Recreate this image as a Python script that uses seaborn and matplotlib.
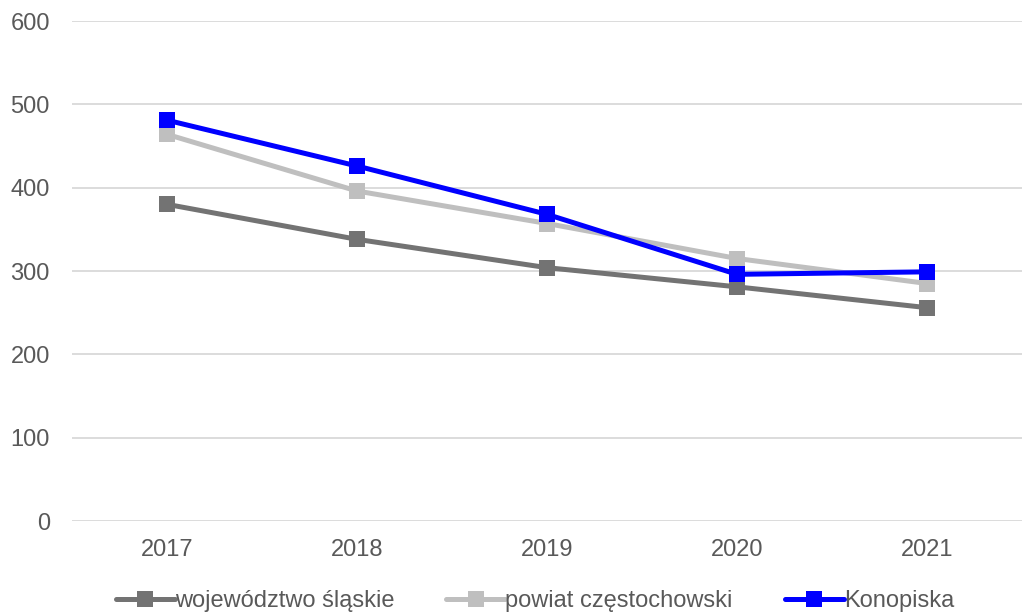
import matplotlib.pyplot as plt
import seaborn as sns
import pandas as pd
import numpy as np

# dane
years = ['2017', '2018', '2019', '2020', '2021']
slaskie = [380, 338, 304, 281, 256]
powiat = [464, 396, 357, 315, 285]
konopiska = [481, 426, 368, 296, 299]
series_names = ['województwo śląskie', 'powiat częstochowski', 'Konopiska']
colors = ['#737373', '#BFBFBF', '#0000FF']

df = pd.DataFrame({
    'rok': years * 3,
    'x': list(range(len(years))) * 3,
    'wartosc': slaskie + powiat + konopiska,
    'seria': [series_names[0]] * 5 + [series_names[1]] * 5 + [series_names[2]] * 5,
})

sns.set_style('white')
plt.rcParams['font.family'] = ['Liberation Sans', 'DejaVu Sans']
plt.rcParams['font.size'] = 17

fig = plt.figure(figsize=(10.27, 6.14), dpi=100)
ax = fig.add_axes([72 / 1027, 1 - 521 / 614, 950 / 1027, 500 / 614])

sns.lineplot(data=df, x='x', y='wartosc', hue='seria', hue_order=series_names,
             palette=colors, marker='s', markersize=11, markeredgewidth=0,
             linewidth=3.6, dashes=False, ax=ax, zorder=3)

ax.set_xlim(-0.5, 4.5)
ax.set_ylim(0, 600)
ax.set_yticks(np.arange(0, 601, 100))
ax.set_xticks(range(len(years)))
ax.set_xticklabels(years)
ax.grid(axis='y', color='#D9D9D9', linewidth=1.3)
ax.tick_params(axis='both', length=0, labelcolor='#595959', labelsize=17)
ax.tick_params(axis='x', pad=13)
ax.tick_params(axis='y', pad=16)
for s in ax.spines.values():
    s.set_visible(False)
ax.set_xlabel('')
ax.set_ylabel('')

handles, labels = ax.get_legend_handles_labels()
ax.legend(handles, labels, loc='center', bbox_to_anchor=(535 / 1027, 1 - 601 / 614),
          bbox_transform=fig.transFigure, ncol=3, frameon=False,
          handlelength=2.5, handletextpad=0.0, columnspacing=2.2,
          labelcolor='#595959', fontsize=17)

fig.savefig('out.png', dpi=100)
